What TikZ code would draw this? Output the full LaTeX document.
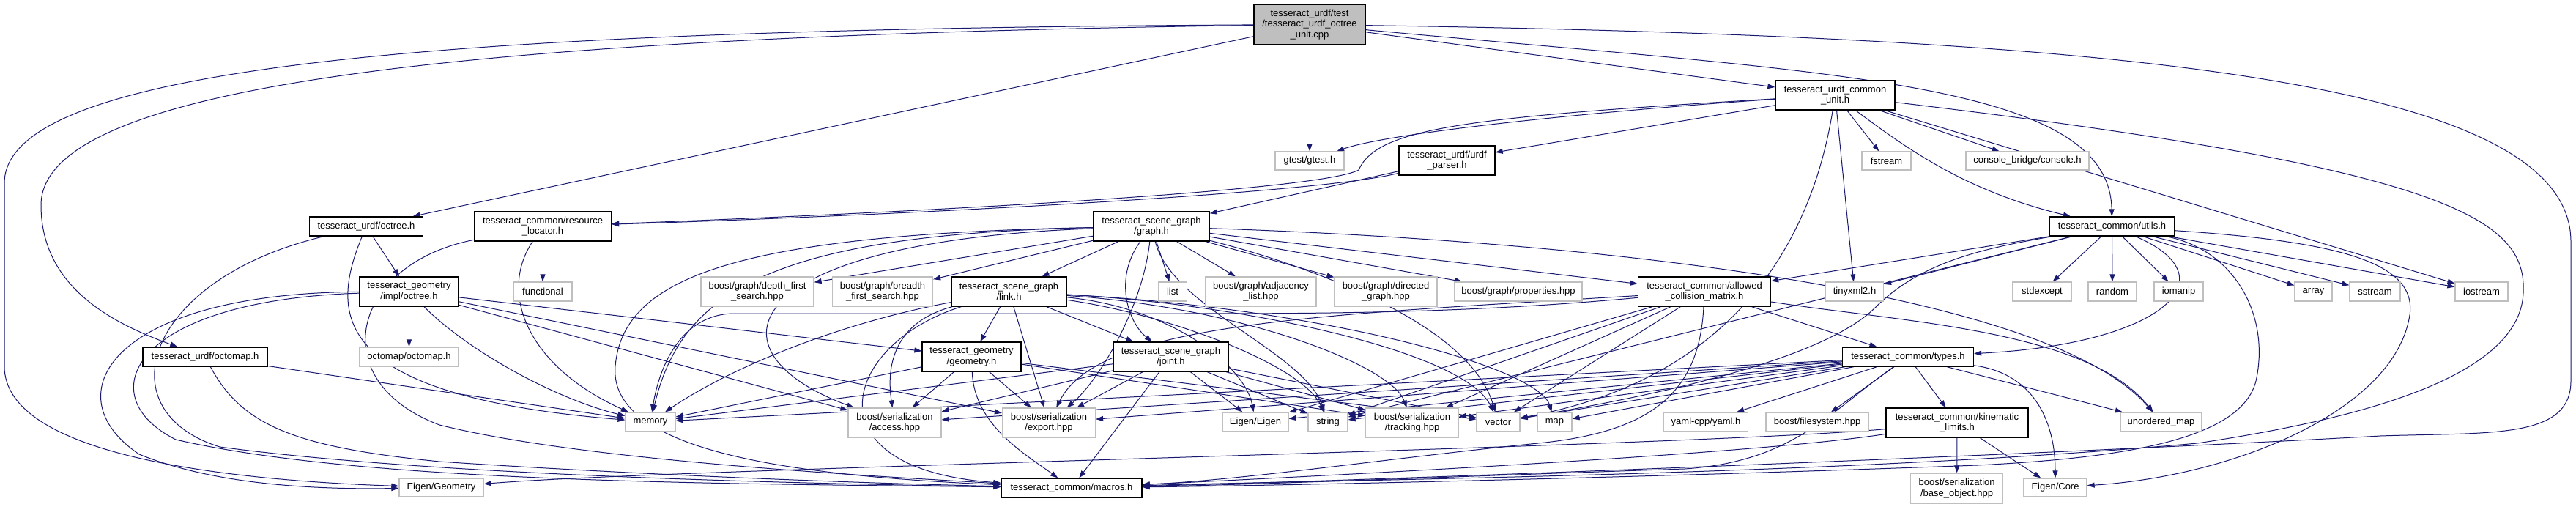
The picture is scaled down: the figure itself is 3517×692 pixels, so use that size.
\documentclass[tikz,border=0pt]{standalone}
\usepackage{fontspec}
\setmainfont{Liberation Sans}
\usetikzlibrary{arrows.meta}
\definecolor{edgeblue}{HTML}{191970}
\definecolor{grayb}{HTML}{BFBFBF}
\pgfdeclarelayer{bg}
\pgfsetlayers{bg,main}
\newcommand{\mknode}[7]{\node[#1, minimum width=#5pt, minimum height=#6pt] (#2) at (#3,#4) {#7};}
\tikzset{
  base/.style={rectangle, inner sep=0pt, align=center, font=\fontsize{13pt}{14.3pt}\selectfont, fill=white},
  doc/.style={base, draw=black, line width=1.3pt},
  ext/.style={base, draw=grayb, line width=1.2pt},
  e/.style={draw=edgeblue, line width=1pt, -{Triangle[length=10pt,width=7pt]}}
}
\begin{document}
\begin{tikzpicture}[x=1pt,y=-1pt]
\useasboundingbox (0,0) rectangle (3517,692);
% row 0
\mknode{doc,fill=grayb}{main}{1788}{33.5}{152}{55}{tesseract\_urdf/test\\/tesseract\_urdf\_octree\\\_unit.cpp}
% row 1
\mknode{doc}{cunit}{2505.5}{130}{163}{40}{tesseract\_urdf\_common\\\_unit.h}
% row 2
\mknode{ext}{gtest}{1788}{219.5}{94}{25}{gtest/gtest.h}
\mknode{doc}{uparser}{1975.5}{219}{131}{40}{tesseract\_urdf/urdf\\\_parser.h}
\mknode{ext}{fstream}{2575.5}{219.5}{67}{25}{fstream}
\mknode{ext}{console}{2768}{219.5}{168}{25}{console\_bridge/console.h}
% row 3
\mknode{doc}{uoctree}{500}{309}{155}{26}{tesseract\_urdf/octree.h}
\mknode{doc}{rloc}{741}{309}{187}{40}{tesseract\_common/resource\\\_locator.h}
\mknode{doc}{graph}{1572}{309}{158}{40}{tesseract\_scene\_graph\\/graph.h}
\mknode{doc}{utils}{2883.5}{309}{171}{26}{tesseract\_common/utils.h}
% row 4
\mknode{doc}{goctree}{558.5}{398}{135}{40}{tesseract\_geometry\\/impl/octree.h}
\mknode{ext}{functional}{741}{398}{80}{26}{functional}
\mknode{ext}{dfs}{1034}{398}{154}{40}{boost/graph/depth\_first\\\_search.hpp}
\mknode{ext}{bfs}{1205}{398}{137}{40}{boost/graph/breadth\\\_first\_search.hpp}
\mknode{doc}{link}{1377.5}{398}{157}{40}{tesseract\_scene\_graph\\/link.h}
\mknode{ext}{list}{1601}{398}{39}{26}{list}
\mknode{ext}{adj}{1721.5}{398}{151}{40}{boost/graph/adjacency\\\_list.hpp}
\mknode{ext}{directed}{1892}{398}{140}{40}{boost/graph/directed\\\_graph.hpp}
\mknode{ext}{props}{2073}{398}{174}{26}{boost/graph/properties.hpp}
\mknode{doc}{allowed}{2327}{398}{181}{40}{tesseract\_common/allowed\\\_collision\_matrix.h}
\mknode{ext}{tinyxml}{2532}{398}{79}{26}{tinyxml2.h}
\mknode{ext}{stdexcept}{2788}{398}{80}{26}{stdexcept}
\mknode{ext}{random}{2884}{398}{66}{26}{random}
\mknode{ext}{iomanip}{2974.5}{398}{67}{26}{iomanip}
\mknode{ext}{array}{3158.5}{398}{51}{26}{array}
\mknode{ext}{sstream}{3242.5}{398}{69}{26}{sstream}
\mknode{ext}{iostream}{3388}{398}{72}{26}{iostream}
% row 5
\mknode{doc}{uoctomap}{280}{487}{170}{26}{tesseract\_urdf/octomap.h}
\mknode{ext}{octomap}{558.5}{487}{135}{26}{octomap/octomap.h}
\mknode{doc}{geom}{1326.5}{487}{135}{40}{tesseract\_geometry\\/geometry.h}
\mknode{doc}{joint}{1598.5}{487}{157}{40}{tesseract\_scene\_graph\\/joint.h}
\mknode{doc}{types}{2605}{487}{179}{26}{tesseract\_common/types.h}
% row 6
\mknode{ext}{memory}{888}{576}{68}{26}{memory}
\mknode{ext}{access}{1221.5}{577}{127}{40}{boost/serialization\\/access.hpp}
\mknode{ext}{export}{1432}{577}{127}{40}{boost/serialization\\/export.hpp}
\mknode{ext}{eigen}{1714}{576}{90}{26}{Eigen/Eigen}
\mknode{ext}{string}{1813}{576}{54}{26}{string}
\mknode{ext}{tracking}{1928}{577}{127}{40}{boost/serialization\\/tracking.hpp}
\mknode{ext}{vector}{2045.5}{576}{59}{26}{vector}
\mknode{ext}{map}{2122.5}{576}{47}{26}{map}
\mknode{ext}{yaml}{2329}{576}{115}{26}{yaml-cpp/yaml.h}
\mknode{ext}{filesystem}{2481}{576}{140}{26}{boost/filesystem.hpp}
\mknode{doc}{kin}{2672}{577}{194}{40}{tesseract\_common/kinematic\\\_limits.h}
\mknode{ext}{unordered}{2950.5}{576}{111}{26}{unordered\_map}
% row 7
\mknode{ext}{egeom}{602.5}{665.5}{115}{25}{Eigen/Geometry}
\mknode{doc}{macros}{1463}{666}{192}{26}{tesseract\_common/macros.h}
\mknode{ext}{baseobj}{2671.6}{666.5}{126}{41}{boost/serialization\\/base\_object.hpp}
\mknode{ext}{ecore}{2806}{665.5}{86}{25}{Eigen/Core}

\begin{pgfonlayer}{bg}
% main
\draw[e] (main) .. controls (600,40) and (6,90) .. (6,250) -- (6,500) .. controls (6,620) and (300,655) .. (egeom);
\draw[e] (main) .. controls (600,50) and (56,120) .. (56,280) .. controls (56,390) and (150,440) .. (uoctomap);
\draw[e] (main) -- (uoctree);
\draw[e] (main) -- (gtest);
\draw[e] (main) -- (cunit);
\draw[e] (main) .. controls (2500,100) and (2880,110) .. (utils);
\draw[e] (main) .. controls (2900,50) and (3510,110) .. (3510,330) -- (3510,520) .. controls (3510,600) and (3400,590) .. (3250,595) .. controls (2800,620) and (1900,655) .. (macros);
% common unit
\draw[e] (cunit) .. controls (2200,150) and (1900,180) .. (gtest);
\draw[e] (cunit) -- (uparser);
\draw[e] (cunit) .. controls (2000,160) and (1880,175) .. (1855,232) .. controls (1800,262) and (1200,292) .. (rloc);
\draw[e] (cunit) -- (fstream);
\draw[e] (cunit) -- (console);
\draw[e] (cunit) .. controls (2600,200) and (2680,260) .. (utils);
\draw[e] (cunit) -- (iostream);
\draw[e] (cunit) .. controls (3350,230) and (3450,300) .. (3445,400) .. controls (3440,520) and (3200,575) .. (3000,605) .. controls (2500,650) and (1800,655) .. (macros);
\draw[e] (cunit) -- (tinyxml);
\draw[e] (cunit) .. controls (2470,350) and (2350,520) .. (vector);
% urdf parser
\draw[e] (uparser) .. controls (1800,265) and (1200,295) .. (rloc);
\draw[e] (uparser) -- (graph);
% urdf octree
\draw[e] (uoctree) -- (goctree);
\draw[e] (uoctree) .. controls (450,430) and (450,540) .. (memory);
\draw[e] (uoctree) .. controls (200,380) and (140,560) .. (300,610) .. controls (600,650) and (1100,660) .. (macros);
% resource locator
\draw[e] (rloc) -- (functional);
\draw[e] (rloc) .. controls (680,400) and (720,500) .. (memory);
\draw[e] (rloc) .. controls (480,360) and (440,520) .. (600,580) .. controls (800,630) and (1200,650) .. (macros);
% geometry octree
\draw[e] (goctree) .. controls (150,400) and (70,540) .. (190,620) .. controls (300,665) and (450,668) .. (egeom);
\draw[e] (goctree) .. controls (180,410) and (120,540) .. (240,600) .. controls (500,660) and (1000,660) .. (macros);
\draw[e] (goctree) -- (octomap);
\draw[e] (goctree) .. controls (640,480) and (760,545) .. (memory);
\draw[e] (goctree) -- (geom);
\draw[e] (goctree) -- (access);
\draw[e] (goctree) -- (export);
% urdf octomap
\draw[e] (uoctomap) -- (memory);
\draw[e] (uoctomap) .. controls (330,580) and (400,610) .. (600,630) .. controls (900,650) and (1200,660) .. (macros);
% graph
\draw[e] (graph) -- (dfs);
\draw[e] (graph) -- (bfs);
\draw[e] (graph) -- (link);
\draw[e] (graph) .. controls (1520,380) and (1540,440) .. (joint);
\draw[e] (graph) -- (list);
\draw[e] (graph) -- (adj);
\draw[e] (graph) -- (directed);
\draw[e] (graph) -- (props);
\draw[e] (graph) -- (allowed);
\draw[e] (graph) .. controls (1050,320) and (930,400) .. (memory);
\draw[e] (graph) .. controls (1000,330) and (960,480) .. (access);
\draw[e] (graph) .. controls (1000,320) and (850,380) .. (840,500) .. controls (830,620) and (1100,650) .. (macros);
\draw[e] (graph) .. controls (1560,420) and (1500,520) .. (export);
\draw[e] (graph) .. controls (1600,420) and (1780,480) .. (string);
\draw[e] (graph) .. controls (1700,340) and (2000,420) .. (vector);
\draw[e] (graph) .. controls (2200,330) and (2800,400) .. (unordered);
% link
\draw[e] (link) -- (geom);
\draw[e] (link) -- (joint);
\draw[e] (link) .. controls (1220,440) and (1210,500) .. (access);
\draw[e] (link) -- (export);
\draw[e] (link) .. controls (1150,470) and (1100,640) .. (macros);
\draw[e] (link) .. controls (1150,440) and (1000,500) .. (memory);
\draw[e] (link) .. controls (1600,430) and (1780,500) .. (string);
\draw[e] (link) .. controls (1600,420) and (1700,500) .. (eigen);
\draw[e] (link) .. controls (1700,420) and (1900,500) .. (tracking);
\draw[e] (link) .. controls (1700,415) and (2000,480) .. (vector);
\draw[e] (link) .. controls (1800,420) and (2100,500) .. (map);
% joint
\draw[e] (joint) -- (eigen);
\draw[e] (joint) -- (string);
\draw[e] (joint) -- (macros);
\draw[e] (joint) -- (access);
\draw[e] (joint) -- (export);
\draw[e] (joint) -- (memory);
\draw[e] (joint) -- (vector);
\draw[e] (joint) -- (tracking);
% geometry
\draw[e] (geom) -- (memory);
\draw[e] (geom) -- (access);
\draw[e] (geom) -- (export);
\draw[e] (geom) .. controls (1330,580) and (1400,620) .. (macros);
\draw[e] (geom) -- (vector);
\draw[e] (geom) -- (tracking);
% allowed collision matrix
\draw[e] (allowed) -- (types);
\draw[e] (allowed) .. controls (2320,540) and (2250,590) .. (2100,605) .. controls (1900,625) and (1700,655) .. (macros);
\draw[e] (allowed) -- (string);
\draw[e] (allowed) -- (vector);
\draw[e] (allowed) .. controls (2600,440) and (2850,450) .. (unordered);
\draw[e] (allowed) .. controls (2000,428) and (1800,428) .. (1600,428) -- (1000,428) .. controls (930,430) and (900,500) .. (memory);
\draw[e] (allowed) .. controls (1800,430) and (1500,440) .. (export);
\draw[e] (allowed) -- (eigen);
\draw[e] (allowed) -- (tracking);
% types
\draw[e] (types) -- (memory);
\draw[e] (types) -- (access);
\draw[e] (types) -- (export);
\draw[e] (types) -- (string);
\draw[e] (types) -- (tracking);
\draw[e] (types) -- (vector);
\draw[e] (types) -- (map);
\draw[e] (types) -- (eigen);
\draw[e] (types) -- (yaml);
\draw[e] (types) -- (filesystem);
\draw[e] (types) -- (kin);
\draw[e] (types) -- (unordered);
\draw[e] (types) .. controls (2780,510) and (2806,580) .. (ecore);
\draw[e] (types) .. controls (2500,560) and (2450,630) .. (2300,640) .. controls (2000,650) and (1700,662) .. (macros);
% kinematic limits
\draw[e] (kin) -- (baseobj);
\draw[e] (kin) -- (ecore);
\draw[e] (kin) .. controls (2400,620) and (1800,650) .. (macros);
\draw[e] (kin) .. controls (2300,610) and (900,640) .. (egeom);
% utils
\draw[e] (utils) -- (allowed);
\draw[e] (utils) -- (tinyxml);
\draw[e] (utils) -- (stdexcept);
\draw[e] (utils) -- (random);
\draw[e] (utils) -- (iomanip);
\draw[e] (utils) .. controls (3050,380) and (2950,470) .. (types);
\draw[e] (utils) -- (array);
\draw[e] (utils) -- (sstream);
\draw[e] (utils) -- (iostream);
\draw[e] (utils) .. controls (3200,330) and (3300,360) .. (3290,430) .. controls (3270,560) and (3050,650) .. (ecore);
\draw[e] (utils) .. controls (3050,340) and (3100,430) .. (3080,520) .. controls (3060,600) and (2900,625) .. (2700,635) .. controls (2300,650) and (1800,662) .. (macros);
\draw[e] (utils) .. controls (2700,340) and (2620,360) .. (2560,420) .. controls (2480,500) and (2200,550) .. (vector);
\draw[e] (utils) -- (string);
\end{pgfonlayer}
\end{tikzpicture}
\end{document}
